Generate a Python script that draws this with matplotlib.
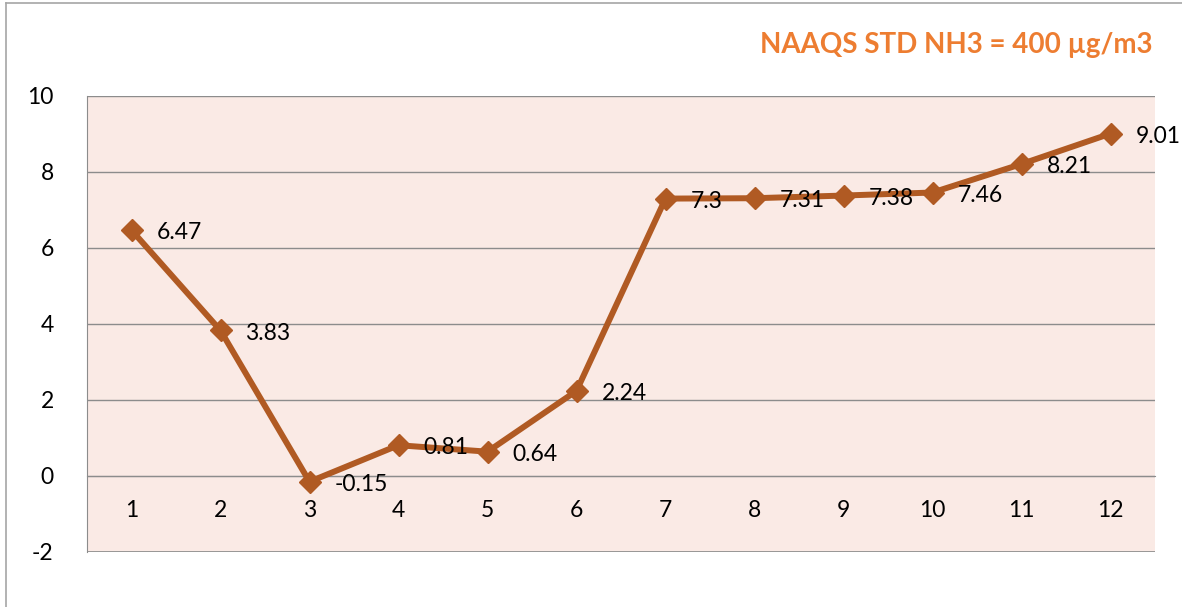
import matplotlib.pyplot as plt
from matplotlib.lines import Line2D

months = [1, 2, 3, 4, 5, 6, 7, 8, 9, 10, 11, 12]
nh3 = [6.47, 3.83, -0.15, 0.81, 0.64, 2.24, 7.3, 7.31, 7.38, 7.46, 8.21, 9.01]
labels = ["6.47", "3.83", "-0.15", "0.81", "0.64", "2.24", "7.3", "7.31", "7.38", "7.46", "8.21", "9.01"]
yticks = [-2, 0, 2, 4, 6, 8, 10]

plt.rcParams['font.family'] = ['Lato', 'DejaVu Sans']
plt.rcParams['axes.unicode_minus'] = False

fig = plt.figure(figsize=(11.82, 6.07), dpi=100)
ax = fig.add_axes([87 / 1182, 55 / 607, (1155 - 87) / 1182, (552 - 96) / 607])
ax.set_facecolor('#FAEAE5')

# outer chart frame (left and top edges visible)
fig.add_artist(Line2D([6 / 1182, 6 / 1182], [0, 1 - 3 / 607], color='#A6A6A6', lw=1.2))
fig.add_artist(Line2D([6 / 1182, 1], [1 - 3 / 607, 1 - 3 / 607], color='#A6A6A6', lw=1.2))

ax.plot(months, nh3, color='#B05A23', lw=4.3, marker='D', markersize=11, zorder=3)
for x, y, t in zip(months, nh3, labels):
    ax.annotate(t, (x, y), xytext=(18, -2), textcoords='offset points',
                ha='left', va='center', fontsize=16.5, color='black', zorder=4)

ax.set_xlim(0.5, 12.5)
ax.set_ylim(-2, 10)
ax.set_yticks(yticks)
ax.grid(axis='y', color='#8C8C8C', lw=1)
ax.set_axisbelow(True)

for s in ['top', 'right']:
    ax.spines[s].set_visible(False)
ax.spines['left'].set_color('#8C8C8C')
ax.spines['bottom'].set_position(('data', 0))
ax.spines['bottom'].set_color('#8C8C8C')
ax.axhline(-2, color='#8C8C8C', lw=1.2)

ax.set_xticks(months)
ax.tick_params(axis='x', length=0, pad=17, labelsize=16.5)
ax.tick_params(axis='y', length=0, pad=24, labelsize=16.5)

fig.text(1152 / 1182, 1 - 45 / 607, 'NAAQS STD NH3 = 400 µg/m3', ha='right', va='center',
         fontsize=20, fontweight='bold', color='#ED7D31')

fig.savefig('out.png', dpi=100)
